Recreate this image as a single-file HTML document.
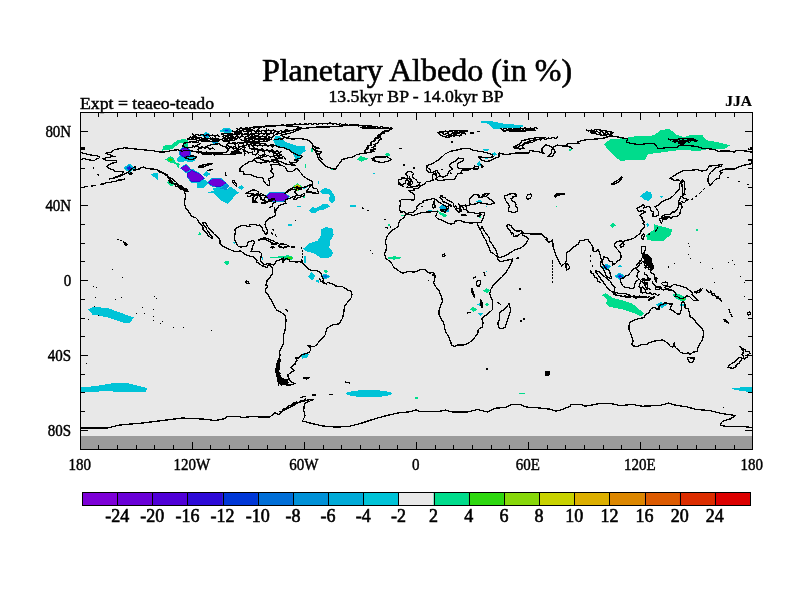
<!DOCTYPE html>
<html lang="en"><head><meta charset="utf-8"><title>Planetary Albedo (in %)</title>
<style>html,body{margin:0;padding:0;background:#fff}body{width:800px;height:600px;overflow:hidden}svg{display:block}text{font-family:"Liberation Serif","Times New Roman",serif;fill:#000;stroke:#000;stroke-width:0.45px}</style>
</head><body>
<svg width="800" height="600" viewBox="0 0 800 600">
<rect width="800" height="600" fill="#fff"/>
<rect x="80" y="112" width="673" height="338" fill="#e8e8e8"/>
<rect x="80" y="436" width="673" height="14" fill="#9b9b9b"/>
<defs><clipPath id="mapclip"><rect x="80" y="112" width="673" height="338"/></clipPath></defs>
<g clip-path="url(#mapclip)" shape-rendering="crispEdges"><polygon fill="#00c3d7" points="123.1,168.2 129.3,163.6 135.5,168.2 129.3,172.8"/><polygon fill="#0091d7" points="124.8,168.2 129.3,164.9 133.8,168.2 129.3,171.5"/><polygon fill="#0037d7" points="126.5,168.2 129.3,166.1 132.1,168.2 129.3,170.3"/><polygon fill="#2d0ad7" points="127.9,168.2 129.3,167.2 130.7,168.2 129.3,169.2"/><polygon fill="#00dc8c" points="161.9,150.6 163.7,145.6 171.2,145.0 176.9,140.6 183.7,138.7 188.1,140.6 187.5,146.9 183.7,146.9 183.1,142.5 180.0,142.5 175.0,146.9 171.2,149.4"/><polygon fill="#00c3d7" points="176.2,160.0 180.0,155.6 185.0,157.5 190.0,156.0 196.0,157.0 195.0,161.0 190.0,162.5 185.6,161.2 180.0,162.5"/><polygon fill="#0091d7" points="190.8,154.4 187.5,157.5 182.6,157.5 179.2,154.5 179.2,150.2 182.5,147.1 187.4,147.1 190.8,150.1"/><polygon fill="#2d0ad7" points="190.1,154.1 187.2,156.8 182.9,156.9 179.9,154.2 179.9,150.5 182.8,147.8 187.1,147.7 190.1,150.4"/><polygon fill="#6e00d7" points="189.3,153.9 186.8,156.1 183.3,156.1 180.7,153.9 180.7,150.7 183.2,148.5 186.7,148.5 189.3,150.7"/><polygon fill="#00dc8c" points="165.0,159.4 170.6,156.2 173.1,157.5 175.6,162.5 180.0,163.7 178.7,168.1 175.0,163.7 170.0,162.5"/><polygon fill="#2dd70f" points="167.7,159.6 170.3,157.8 172.9,159.6 170.3,161.4"/><polygon fill="#00c3d7" points="202.5,174.4 206.2,171.2 210.6,173.7 206.9,176.9"/><polygon fill="#00c3d7" points="196.9,183.7 205.0,179.4 208.1,183.1 203.7,187.5 197.5,188.1"/><polygon fill="#00c3d7" points="208.1,192.5 213.7,190.6 213.1,187.5 221.2,187.5 226.2,190.0 230.0,186.2 233.7,188.7 238.7,192.5 233.7,196.9 230.6,201.2 227.5,203.7 219.4,199.4 215.6,195.6 213.7,192.5"/><polygon fill="#0091d7" points="221.2,187.1 226.9,183.1 229.4,186.2 226.2,190.0 220.0,188.7"/><polygon fill="#00c3d7" points="238.1,187.5 241.2,185.0 244.4,187.5 241.2,190.0"/><polygon fill="#00c3d7" points="179.8,168.0 186.2,163.7 191.4,169.5 186.2,173.1"/><polygon fill="#0091d7" points="180.0,168.1 186.2,164.2 191.2,169.4 186.2,172.7"/><polygon fill="#2d0ad7" points="180.2,168.1 186.2,164.7 191.0,169.3 186.2,172.2"/><polygon fill="#6e00d7" points="180.5,168.2 186.2,165.2 190.8,169.2 186.2,171.7"/><polygon fill="#00c3d7" points="186.7,172.6 191.8,168.5 200.2,173.3 205.3,178.4 200.2,182.8 191.1,182.8 186.7,177.0"/><polygon fill="#0091d7" points="186.9,172.9 191.9,169.3 200.0,173.6 205.0,178.2 200.0,182.2 191.2,182.2 186.9,176.9"/><polygon fill="#2d0ad7" points="187.2,173.3 192.0,170.1 199.8,173.9 204.6,178.0 199.8,181.5 191.3,181.5 187.2,176.9"/><polygon fill="#6e00d7" points="187.5,173.8 192.1,171.0 199.6,174.3 204.2,177.8 199.6,180.8 191.5,180.8 187.5,176.8"/><polygon fill="#00c3d7" points="207.2,182.5 212.1,177.8 220.7,177.8 227.2,183.2 221.3,187.8 212.4,187.3"/><polygon fill="#0091d7" points="207.5,182.5 212.2,178.3 220.6,178.3 226.9,183.1 221.2,187.3 212.5,186.9"/><polygon fill="#2d0ad7" points="207.9,182.5 212.4,178.8 220.4,178.8 226.5,183.1 221.0,186.8 212.7,186.4"/><polygon fill="#6e00d7" points="208.2,182.5 212.6,179.3 220.3,179.3 226.1,183.0 220.8,186.2 212.8,185.9"/><polygon fill="#00c3d7" points="264.9,196.6 269.8,191.8 284.2,191.8 289.8,196.6 283.9,202.1 270.8,202.4"/><polygon fill="#0091d7" points="265.3,196.6 270.0,192.3 284.0,192.3 289.4,196.6 283.7,201.6 271.0,201.8"/><polygon fill="#2d0ad7" points="265.8,196.6 270.3,192.8 283.7,192.8 288.9,196.6 283.4,201.1 271.2,201.3"/><polygon fill="#6e00d7" points="266.3,196.7 270.6,193.4 283.5,193.4 288.4,196.7 283.2,200.5 271.5,200.7"/><polygon fill="#00c3d7" points="150.0,173.7 158.1,173.1 157.5,180.0"/><polygon fill="#00dc8c" points="166.9,182.5 170.6,178.7 175.0,184.4 171.2,186.2"/><polygon fill="#00c3d7" points="201.2,135.6 206.2,131.9 211.9,135.6 206.9,138.7"/><polygon fill="#0091d7" points="203.3,135.5 206.3,133.3 209.8,135.5 206.8,137.4"/><polygon fill="#0037d7" points="204.9,135.5 206.4,134.4 208.2,135.5 206.7,136.4"/><polygon fill="#00c3d7" points="219.4,131.2 225.0,127.5 230.0,128.1 233.1,131.9 227.5,133.7"/><polygon fill="#0091d7" points="222.8,130.9 225.9,128.8 228.7,129.2 230.4,131.3 227.3,132.3"/><polygon fill="#0037d7" points="224.9,130.7 226.4,129.6 227.8,129.8 228.7,130.9 227.1,131.4"/><polygon fill="#00c3d7" points="210.6,141.9 214.4,140.0 218.7,141.9 214.4,144.4"/><polygon fill="#006ed7" points="212.2,142.0 214.5,140.8 217.0,142.0 214.5,143.5"/><polygon fill="#00c3d7" points="273.1,140.6 275.6,136.2 280.0,136.2 285.0,141.9 296.2,145.6 305.0,145.6 305.6,150.6 301.2,154.4 298.1,162.5 295.0,158.1 292.5,152.5 285.0,148.7 276.2,146.9"/><polygon fill="#00dc8c" points="311.3,148.0 312.5,148.0 312.5,152.0 311.3,152.0"/><polygon fill="#00dc8c" points="304.5,163.5 305.8,163.5 305.8,168.0 304.5,168.0"/><polygon fill="#00dc8c" points="331.0,168.8 334.0,168.8 334.0,170.0 331.0,170.0"/><polygon fill="#00dc8c" points="292.3,187.2 297.5,183.0 302.7,187.2 297.5,191.4"/><polygon fill="#87d70a" points="293.2,187.2 297.5,183.8 301.8,187.2 297.5,190.6"/><polygon fill="#c8d200" points="294.2,187.2 297.5,184.5 300.8,187.2 297.5,189.9"/><polygon fill="#dc8700" points="295.1,187.2 297.5,185.3 299.9,187.2 297.5,189.1"/><polygon fill="#dc2d00" points="296.1,187.2 297.5,186.1 298.9,187.2 297.5,188.3"/><polygon fill="#00c3d7" points="302.5,188.2 308.7,185.4 307.0,187.8 303.0,189.5"/><polygon fill="#00c3d7" points="318.0,181.0 319.2,181.0 319.2,184.0 318.0,184.0"/><polygon fill="#00c3d7" points="319.4,191.2 325.0,188.1 330.0,189.4 334.4,195.0 335.0,200.0 331.9,203.7 328.7,200.0 330.0,195.0 327.5,193.7 322.5,194.4"/><polygon fill="#00c3d7" points="309.4,210.6 312.5,206.9 316.2,208.1 322.5,204.4 327.5,203.7 330.0,206.2 325.0,209.4 318.7,210.6 316.2,212.5 311.2,213.1"/><polygon fill="#00c3d7" points="296.5,205.5 301.0,205.5 301.0,207.0 296.5,207.0"/><polygon fill="#00c3d7" points="288.0,224.0 292.0,224.0 292.0,226.0 288.0,226.0"/><polygon fill="#00c3d7" points="350.0,204.8 356.0,204.8 356.0,206.8 350.0,206.8"/><polygon fill="#00dc8c" points="303.2,196.3 304.6,196.3 304.6,198.0 303.2,198.0"/><polygon fill="#00c3d7" points="303.1,248.7 310.0,243.1 317.5,240.6 321.2,235.0 321.2,229.4 325.6,226.9 332.5,228.7 333.7,235.0 330.0,241.2 329.4,247.5 333.1,252.5 331.2,256.9 326.2,258.1 320.0,257.5 313.7,253.1 306.2,251.2"/><polygon fill="#00dc8c" points="270.0,257.5 280.0,256.2 288.7,255.2 293.1,256.9 292.5,259.4 286.9,260.6 280.0,258.1"/><polygon fill="#2dd70f" points="286.5,257.2 292.0,257.0 291.5,259.2 287.5,259.8"/><polygon fill="#00c3d7" points="262.0,257.0 263.2,257.0 263.2,259.5 262.0,259.5"/><polygon fill="#00c3d7" points="304.0,256.2 305.6,256.2 305.8,263.0 304.3,263.0"/><polygon fill="#00c3d7" points="308.1,276.2 311.9,271.9 315.6,276.2 311.9,280.6"/><polygon fill="#00c3d7" points="315.0,280.6 319.4,280.0 318.7,283.1"/><polygon fill="#00c3d7" points="320.0,276.2 325.0,273.7 330.6,276.2 325.6,279.4"/><polygon fill="#0091d7" points="321.6,276.3 325.1,274.5 329.0,276.3 325.5,278.5"/><polygon fill="#006ed7" points="323.2,276.3 325.2,275.3 327.4,276.3 325.4,277.6"/><polygon fill="#00dc8c" points="323.1,271.2 325.6,269.7 328.1,271.5 325.6,273.1"/><polygon fill="#00c3d7" points="300.5,355.5 304.0,353.0 309.0,354.0 307.0,357.5 302.5,358.5"/><polygon fill="#00c3d7" points="392.0,393.6 390.6,394.8 386.6,395.9 380.5,396.7 373.0,397.1 365.0,397.1 357.5,396.7 351.4,395.9 347.4,394.8 346.0,393.6 347.4,392.4 351.4,391.3 357.5,390.5 365.0,390.1 373.0,390.1 380.5,390.5 386.6,391.3 390.6,392.4"/><polygon fill="#00dc8c" points="414.5,396.8 417.5,396.8 417.5,398.5 414.5,398.5"/><polygon fill="#00dc8c" points="519.0,392.7 525.0,392.7 525.0,393.9 519.0,393.9"/><polygon fill="#00dc8c" points="386.0,258.0 394.0,256.2 402.5,257.8 394.0,259.8"/><polygon fill="#00dc8c" points="388.0,224.2 389.5,224.2 389.5,226.0 388.0,226.0"/><polygon fill="#00dc8c" points="356.9,159.4 360.6,156.2 368.7,158.7 361.2,161.9"/><polygon fill="#00dc8c" points="384.4,154.4 386.9,152.7 390.0,153.7 389.4,156.2 385.6,155.6"/><polygon fill="#00c3d7" points="372.7,172.8 374.8,172.8 374.8,174.0 372.7,174.0"/><polygon fill="#00aad7" points="439.4,207.5 442.5,204.4 445.6,205.6 449.4,210.0 448.1,212.5 441.2,211.2"/><polygon fill="#00dc8c" points="436.9,210.0 441.2,212.5 447.5,215.0 444.4,217.5 440.0,214.4"/><polygon fill="#00c3d7" points="428.0,210.0 432.0,210.0 432.0,211.3 428.0,211.3"/><polygon fill="#00c3d7" points="475.0,201.2 480.0,200.0 482.5,201.5 477.5,202.2"/><polygon fill="#00c3d7" points="486.0,206.0 487.0,206.0 487.0,207.0 486.0,207.0"/><polygon fill="#00dc8c" points="479.0,216.0 481.0,216.0 481.0,218.0 479.0,218.0"/><polygon fill="#00dc8c" points="400.5,214.5 403.5,214.5 403.5,216.0 400.5,216.0"/><polygon fill="#00c3d7" points="478.7,122.2 483.1,121.0 492.5,121.4 505.0,123.9 522.5,125.1 523.7,127.0 515.0,128.2 503.7,127.6 495.0,129.5 492.5,128.2 487.5,123.5"/><polygon fill="#00c3d7" points="481.9,150.1 485.0,148.9 489.4,149.5 487.5,151.4"/><polygon fill="#00c3d7" points="491.9,153.2 495.0,152.0 496.9,155.1 493.7,155.7"/><polygon fill="#00c3d7" points="485.0,158.0 488.0,158.0 488.0,159.2 485.0,159.2"/><polygon fill="#00c3d7" points="476.2,163.9 480.0,160.7 481.2,165.7 478.7,166.4"/><polygon fill="#00dc8c" points="568.7,148.2 572.0,149.5 570.0,152.0"/><polygon fill="#00dc8c" points="555.5,205.5 556.7,205.5 556.7,206.7 555.5,206.7"/><polygon fill="#00dc8c" points="604.1,143.9 610.6,139.2 623.7,138.2 635.0,136.4 653.7,135.4 661.2,129.8 669.7,129.2 676.2,134.5 683.7,137.3 691.2,134.9 702.5,135.4 706.2,140.1 721.2,142.9 729.7,145.4 725.0,148.6 710.0,148.6 696.9,151.4 683.7,149.5 668.7,151.4 648.1,154.2 645.3,159.8 620.0,160.7 614.4,156.1 607.8,149.5"/><polygon fill="#00c3d7" points="640.0,196.2 646.2,191.2 651.2,191.9 651.9,197.5 648.1,201.0 643.7,199.4"/><polygon fill="#00c3d7" points="659.0,196.0 663.1,196.0 661.9,198.1"/><polygon fill="#00dc8c" points="610.0,225.6 613.1,222.9 616.0,225.2 612.5,228.1"/><polygon fill="#00c3d7" points="646.2,224.4 648.1,222.9 649.0,225.0 647.5,226.9"/><polygon fill="#00dc8c" points="646.2,235.0 653.7,230.0 654.4,224.4 668.1,228.1 672.2,229.4 670.6,235.0 663.7,240.6 652.5,240.9 646.9,239.4"/><polygon fill="#00dc8c" points="696.0,229.0 698.0,229.0 698.0,231.0 696.0,231.0"/><polygon fill="#00c3d7" points="600.6,266.9 606.2,263.7 611.9,266.2 606.2,270.6"/><polygon fill="#0091d7" points="602.6,266.9 606.2,264.8 609.9,266.4 606.2,269.3"/><polygon fill="#0037d7" points="604.5,266.9 606.2,265.9 607.9,266.7 606.2,268.0"/><polygon fill="#00c3d7" points="618.1,266.2 620.0,265.0 622.2,266.2 620.0,267.7"/><polygon fill="#00c3d7" points="614.4,276.2 619.4,272.7 625.6,276.2 620.0,280.0"/><polygon fill="#0091d7" points="616.0,276.2 619.5,273.8 623.9,276.2 620.0,278.9"/><polygon fill="#0037d7" points="617.6,276.2 619.7,274.8 622.3,276.2 619.9,277.8"/><polygon fill="#2d0ad7" points="618.8,276.3 619.8,275.6 621.0,276.3 619.9,277.0"/><polygon fill="#00dc8c" points="601.9,295.0 605.6,293.1 613.1,298.1 623.7,300.6 632.5,303.7 640.0,310.0 644.4,313.7 640.6,316.2 633.7,313.1 622.5,309.4 610.0,306.9 605.6,303.7 607.5,300.0"/><polygon fill="#00c3d7" points="655.6,305.0 660.6,302.2 666.2,303.7 666.9,305.0 661.9,308.1 658.1,306.2"/><polygon fill="#0091d7" points="658.6,305.0 661.1,303.6 663.9,304.4 664.2,305.0 661.7,306.6 659.8,305.6"/><polygon fill="#00dc8c" points="672.5,295.0 676.2,293.1 682.5,295.6 686.2,298.7 685.0,301.2 680.0,300.6 675.0,298.1"/><polygon fill="#2dd70f" points="681.5,298.6 684.5,298.6 684.5,300.2 681.5,300.2"/><polygon fill="#00c3d7" points="680.0,303.7 685.0,303.7 685.0,305.6 680.0,305.6"/><polygon fill="#00dc8c" points="483.1,290.6 486.9,288.1 490.0,290.6 486.9,293.1"/><polygon fill="#00dc8c" points="485.0,304.6 487.2,302.9 489.4,304.6 487.2,306.2"/><polygon fill="#00c3d7" points="476.9,304.4 480.0,303.1 480.0,306.2"/><polygon fill="#00dc8c" points="470.0,309.4 473.1,306.9 477.5,309.4 473.7,311.9"/><polygon fill="#00c3d7" points="477.5,313.1 483.1,313.1 480.0,316.0"/><polygon fill="#00c3d7" points="486.0,270.7 487.0,270.7 487.0,271.7 486.0,271.7"/><polygon fill="#00c3d7" points="88.0,309.2 93.7,307.0 107.5,308.0 133.7,317.5 130.0,323.0 122.5,322.5 107.5,317.5 92.5,314.5"/><polygon fill="#00c3d7" points="80.0,387.5 95.0,386.2 112.5,383.2 127.5,383.2 147.5,388.0 145.0,392.5 125.0,392.0 105.0,391.2 80.0,392.5"/><polygon fill="#00c3d7" points="730.0,388.7 740.0,387.5 752.5,386.7 752.5,392.0 742.5,391.2"/><polygon fill="#00dc8c" points="198.0,234.5 200.0,230.7 201.2,235.7"/><polygon fill="#00c3d7" points="232.0,241.5 236.0,241.5 235.0,245.0"/><polygon fill="#00dc8c" points="223.7,262.0 228.7,260.5 229.5,263.7 227.0,265.0"/></g>
<g clip-path="url(#mapclip)"><path fill="none" stroke="#000" stroke-width="1.3" stroke-linejoin="round" shape-rendering="crispEdges" d="M272.5,265.1 270.3,263.6 268.4,263.2 266.0,264.5 264.1,264.4 263.2,263.8 261.0,261.5 260.4,259.7 261.0,256.9 261.5,253.3 259.1,251.6 256.3,251.4 253.5,251.6 251.1,251.6 252.0,249.4 252.4,246.6 253.5,244.7 254.8,241.5 252.6,240.8 248.3,241.7 247.5,244.7 246.0,246.6 243.6,246.6 240.4,247.1 238.0,246.0 236.7,244.1 235.2,241.0 234.2,238.5 234.6,235.4 235.4,232.5 235.0,229.7 237.2,227.7 239.9,226.2 242.3,225.4 245.5,225.8 247.9,226.7 250.1,226.7 249.6,224.7 252.6,224.3 255.4,224.3 257.6,225.6 259.7,224.9 261.9,226.9 262.5,229.2 263.8,231.6 265.3,234.0 266.8,234.0 267.5,231.0 266.4,227.9 265.1,225.1 265.3,222.3 267.5,220.0 269.7,218.1 271.6,217.6 274.0,216.3 275.7,215.1 275.0,212.3 274.2,209.7 274.6,207.7 275.2,211.4 276.7,209.2 278.3,207.1 278.7,205.4 281.5,204.7 284.3,203.5 286.2,203.2 284.9,201.7 285.6,199.8 288.0,198.7 291.4,197.6 293.7,196.6 296.1,195.9 293.5,199.2 295.5,199.6 298.3,197.7 302.6,196.4 304.9,195.1 303.9,193.3 301.5,195.3 298.3,195.3 296.5,194.6 295.9,193.1 294.6,191.8 296.8,189.9 292.7,189.3 289.0,190.8 286.2,192.9 284.3,193.6 287.1,191.6 289.0,189.5 291.8,188.4 292.7,187.3 297.4,187.1 302.1,187.5 305.8,186.9 309.5,185.0 312.7,183.9 312.7,181.5 309.5,179.8 305.8,177.9 303.0,176.0 301.5,173.6 299.6,171.5 297.0,168.9 295.9,168.2 294.6,169.9 292.7,171.2 289.9,171.9 287.1,171.2 286.6,168.9 285.2,167.1 282.4,165.7 278.7,164.6 273.1,164.3 270.9,164.6 271.6,167.1 272.2,168.9 270.7,171.4 273.1,173.6 273.9,175.9 272.2,177.3 268.4,178.8 269.4,181.1 269.7,183.0 269.7,184.8 267.9,185.4 266.6,184.8 264.7,182.4 263.2,181.1 263.2,178.3 261.0,177.7 257.2,177.3 253.5,176.2 250.7,174.7 247.0,174.2 244.2,174.5 243.2,171.7 240.0,171.2 239.9,168.9 241.3,167.1 244.2,164.8 247.0,163.3 248.8,161.8 251.6,161.4 254.4,159.6 256.3,157.7 258.2,157.1 261.0,157.7 263.8,156.4 265.1,154.9 264.7,153.0 263.8,151.5 261.0,150.6 257.6,150.6 258.2,152.5 255.4,154.9 252.6,154.0 252.6,152.1 248.8,153.0 246.0,151.2 244.2,149.3 245.1,147.4 240.4,146.5 238.5,148.3 236.7,150.2 239.5,152.1 241.3,153.0 237.6,153.6 233.9,154.3 231.1,154.0 227.3,154.5 221.7,154.0 217.1,154.1 214.3,154.9 215.2,153.0 211.5,154.0 205.9,154.3 202.1,154.1 201.2,152.5 196.5,151.7 190.0,150.6 184.4,150.2 182.5,151.3 177.8,149.7 174.1,150.2 168.5,151.2 163.8,152.1 160.1,152.1 153.6,150.8 147.9,150.2 140.5,149.5 133.0,148.7 124.6,147.8 119.9,148.7 114.3,149.7 111.5,152.1 106.9,152.5 105.9,153.4 109.7,154.7 111.5,155.8 115.3,156.8 111.5,156.8 106.9,157.7 103.1,158.5 105.9,160.3 111.5,160.5 116.2,160.5 116.2,162.4 111.5,163.3 107.8,165.2 106.9,166.1 108.7,168.0 111.5,169.3 114.3,170.4 114.3,171.5 118.1,171.2 120.9,171.4 123.3,171.4 122.7,173.6 119.0,175.9 115.3,177.2 112.5,178.3 109.1,179.0 113.4,178.3 117.1,177.3 120.9,176.0 124.6,174.0 128.3,172.1 130.2,170.2 133.0,168.0 134.9,166.7 135.8,168.4 133.4,170.2 136.7,169.7 139.5,168.9 140.5,167.4 143.3,167.1 146.1,168.2 149.8,168.9 153.6,169.1 157.3,169.9 160.1,171.5 162.9,172.3 164.8,174.5 167.6,176.4 171.3,178.3 173.2,179.6 176.0,182.0 177.8,184.8 179.7,186.7 183.4,188.0 187.2,189.1 188.1,191.4 184.2,190.8 185.3,194.2 185.3,197.9 184.6,201.1 184.9,205.4 185.9,208.2 188.1,210.7 189.4,212.9 191.7,216.5 195.6,217.6 198.0,220.0 199.3,223.2 202.1,226.0 203.4,228.8 202.1,229.2 204.9,231.2 207.2,233.5 207.7,235.4 210.9,237.6 212.4,238.2 212.4,236.3 210.5,235.4 209.0,232.5 206.8,229.7 205.9,227.3 203.6,225.1 202.7,222.3 205.9,222.8 207.2,226.0 209.6,228.8 212.4,231.6 213.3,233.5 216.1,235.7 218.4,237.8 219.9,240.4 219.9,243.2 221.7,245.3 224.5,247.0 227.3,248.4 230.1,249.6 233.9,251.3 237.6,251.8 240.4,250.9 242.3,252.2 244.7,254.1 247.0,255.2 249.8,256.1 252.6,256.5 253.5,257.1 255.4,259.1 256.7,260.8 256.9,262.7 258.5,263.0 260.4,264.5 261.9,265.8 264.1,266.2 266.0,267.5 267.5,267.2 267.5,265.7 268.8,264.4 270.7,265.7 271.2,267.2 272.2,268.1 272.5,270.9 272.5,273.7 270.3,276.5 269.7,278.4 267.5,279.7 266.6,282.1 266.0,285.3 267.5,286.2 266.9,287.6 265.3,289.6 265.6,292.4 267.9,294.7 269.7,297.7 272.2,301.8 274.4,306.4 276.5,309.8 280.6,312.1 283.8,314.1 285.6,315.8 286.0,320.5 285.4,325.2 285.1,329.8 283.6,334.5 283.4,339.2 283.2,343.9 281.3,348.2 279.6,350.8 280.0,355.1 279.1,358.8 280.6,359.8 279.6,362.6 277.8,365.4 275.9,368.8 277.8,371.0 276.3,374.7 277.8,378.5 280.6,380.9 283.4,381.8 284.7,380.4 287.1,379.2 289.2,379.0 288.0,376.6 288.0,374.7 290.5,372.9 294.0,370.6 292.7,369.1 290.9,367.3 292.7,365.4 295.0,364.4 295.5,361.6 297.4,360.7 295.5,357.9 299.3,357.9 300.8,355.1 304.9,353.8 309.3,352.3 310.8,349.5 309.9,347.6 307.8,345.2 310.5,346.1 314.4,346.5 317.0,344.4 319.4,341.1 322.6,338.3 325.4,334.5 326.2,330.8 327.3,328.3 330.1,326.1 333.8,324.4 338.5,324.0 340.4,322.0 342.2,318.6 343.7,313.9 344.1,309.3 345.0,305.5 347.3,302.7 349.7,299.9 351.6,297.1 351.9,294.3 351.0,290.9 347.8,290.2 345.0,288.1 342.2,286.6 338.9,286.4 334.7,285.9 333.8,284.6 330.1,283.1 327.3,282.5 326.3,284.0 323.5,283.1 322.6,281.2 323.5,279.3 321.7,275.6 320.7,273.1 318.3,271.3 315.1,270.2 310.5,270.2 307.7,268.1 304.9,265.3 302.1,262.9 300.2,261.4 296.5,262.1 293.7,261.4 289.9,261.2 289.0,259.9 286.2,258.4 283.8,260.6 282.8,262.5 283.0,259.3 283.8,258.0 280.6,259.7 277.8,260.6 275.9,261.5 275.3,263.6 273.5,265.1 272.5,265.1M288.8,379.6 285.2,381.5 283.4,382.6 286.2,384.1 289.9,385.0 293.7,384.1 295.1,383.5 291.8,382.2 289.9,380.4 288.8,379.6M303.0,378.1 305.8,377.4 309.0,377.7 306.7,379.0 303.0,378.1M280.6,134.9 289.9,133.4 295.5,131.1 301.1,128.7 314.2,127.2 332.9,126.8 351.6,125.0 366.5,125.3 375.8,127.2 360.9,127.8 379.6,128.7 392.7,128.7 385.2,131.5 381.4,133.4 379.6,136.2 381.4,139.0 378.6,140.9 377.7,142.7 374.0,144.6 375.8,146.5 372.1,147.4 375.8,149.3 370.2,150.2 374.0,151.2 368.4,152.7 360.9,153.6 356.2,154.9 352.5,157.1 346.9,158.1 342.2,159.6 340.4,162.4 337.6,165.6 335.7,168.9 332.9,168.9 327.3,167.1 323.5,164.3 320.7,161.4 317.9,157.7 317.0,154.9 321.7,152.1 315.1,150.6 315.1,148.9 319.8,148.3 313.3,146.5 311.4,142.7 307.7,139.9 301.1,138.6 291.8,139.0 284.3,137.1 280.6,134.9M371.5,158.6 375.8,157.0 383.3,157.1 387.1,156.8 389.9,158.6 391.3,159.6 388.0,161.1 382.4,162.6 377.7,161.8 374.5,161.6 375.8,160.5 372.1,159.8 374.9,159.0 371.5,158.6M258.2,240.2 261.9,238.2 265.6,238.0 269.4,239.3 273.1,241.0 275.9,242.5 278.3,243.4 275.9,244.0 271.8,244.0 272.7,242.6 270.3,241.9 266.6,240.0 263.8,239.3 261.0,239.7 258.2,240.2M278.0,246.8 280.6,244.0 283.4,244.0 286.2,244.5 289.2,246.4 287.1,246.8 284.3,247.1 283.2,248.1 281.5,247.1 278.0,246.8M270.7,247.0 273.1,246.6 274.6,247.5 272.7,247.9 270.7,247.0M291.4,246.8 294.2,246.8 294.0,247.5 291.4,247.5 291.4,246.8M306.2,192.1 308.6,188.6 310.5,185.8 312.7,184.8 312.3,187.6 314.2,188.6 317.0,188.9 317.9,191.4 318.5,193.3 317.0,194.0 315.1,192.7 312.7,193.4 311.4,192.1 306.2,192.1M177.3,186.1 181.6,186.9 185.3,189.1 186.4,190.6 183.4,189.9 180.1,188.4 177.3,186.1M168.5,180.0 170.9,180.2 171.3,182.0 172.0,183.9 169.8,182.0 168.5,180.0M128.3,173.6 131.1,172.7 132.6,173.6 130.2,174.7 128.3,173.6M296.5,187.8 300.2,188.4 301.5,189.1 298.3,188.9 296.5,187.8M295.9,165.9 292.7,165.2 289.0,164.6 284.3,163.7 281.5,161.8 277.8,160.7 272.2,160.9 271.2,159.6 276.8,159.0 279.6,158.6 278.7,156.8 281.5,154.9 278.7,153.4 274.0,153.0 271.2,151.2 268.4,150.2 263.8,150.6 258.2,149.8 253.5,149.7 249.8,148.3 248.8,145.5 250.7,143.1 258.2,143.1 265.6,143.3 266.6,145.5 271.2,145.0 275.0,145.2 278.7,146.9 284.3,148.0 289.0,149.8 291.8,152.1 297.4,154.9 302.1,156.2 301.1,157.7 297.4,159.0 294.6,160.1 298.3,160.5 295.5,162.8 289.0,162.0 292.7,164.3 295.9,165.9M254.4,159.0 259.1,158.1 264.7,161.1 267.1,162.0 261.9,162.9 257.2,162.8 255.4,161.4 254.4,159.0M197.4,149.3 204.0,147.4 211.5,144.6 218.9,143.7 220.8,145.5 226.4,147.4 228.3,150.2 225.5,152.5 218.9,152.5 211.5,152.8 204.9,153.0 199.3,151.5 197.4,149.3M182.5,146.5 187.2,148.0 191.8,147.4 197.4,145.0 200.3,143.7 197.4,142.2 190.9,141.8 184.4,143.1 182.5,146.5M198.4,140.3 205.9,141.8 213.3,141.2 218.9,140.9 218.9,139.0 212.4,138.1 205.9,138.6 198.4,140.3M226.4,145.0 232.0,147.4 235.7,146.5 234.8,143.7 229.2,143.1 226.4,145.0M238.5,146.1 243.2,146.5 247.9,144.6 247.0,142.7 240.4,142.5 238.5,144.6 238.5,146.1M245.1,141.2 252.6,141.8 263.8,141.8 267.5,140.9 267.5,139.4 260.0,139.4 250.7,138.4 245.1,138.1 245.1,141.2M222.7,140.9 229.2,140.9 234.8,140.5 233.9,138.1 227.3,138.1 222.7,139.0 222.7,140.9M250.7,138.4 258.2,138.4 267.5,138.4 272.2,137.1 275.9,134.3 284.3,132.4 293.7,130.0 301.1,127.8 295.5,126.3 282.4,125.7 267.5,125.9 252.6,127.2 247.0,128.7 254.4,130.6 256.3,132.4 252.6,134.3 256.3,135.6 250.7,138.4M237.6,131.5 245.1,129.3 251.6,131.5 251.6,134.3 245.1,134.7 238.5,133.4 237.6,131.5M231.1,152.1 234.8,150.8 238.5,151.5 237.6,152.8 232.9,153.0 231.1,152.1M273.1,154.0 275.9,153.6 277.8,154.9 274.0,155.5 273.1,154.0M220.8,133.8 230.1,133.8 232.0,135.6 224.5,135.6 220.8,133.8M187.2,139.0 194.6,139.4 200.3,137.9 193.7,136.4 187.2,139.0M184.4,157.7 190.9,159.6 195.6,158.6 196.5,156.8 191.8,155.8 187.2,156.6 184.4,157.7M198.4,167.1 203.1,167.1 207.7,165.2 212.4,163.7 208.7,163.9 204.0,164.8 200.3,165.6 198.4,167.1M232.0,180.5 233.9,183.9 236.7,186.7 236.7,184.8 234.8,182.0 233.9,180.2 232.0,180.5M245.1,193.6 249.8,191.4 252.6,189.9 256.3,190.3 258.5,192.3 258.5,194.2 254.4,194.2 251.6,193.3 247.9,193.8 245.1,193.6M252.9,202.6 255.4,202.6 255.9,198.9 258.2,195.7 255.4,195.5 252.9,197.9 252.9,202.6M259.1,195.3 263.8,195.1 267.5,197.7 264.7,197.4 263.8,200.4 261.0,199.2 261.0,197.0 259.1,195.3M261.3,203.2 264.7,203.4 269.4,201.3 266.6,201.5 262.8,202.6 261.3,203.2M268.1,200.2 271.2,200.2 274.4,199.6 274.0,198.7 271.2,199.1 268.1,200.2M125.5,243.4 127.4,244.3 126.3,245.6 125.5,244.5 125.5,243.4M772.4,157.5 770.0,155.8 762.5,154.9 753.2,152.5 747.6,151.2 736.4,150.2 734.5,152.1 728.9,151.0 717.7,151.2 714.0,149.3 702.7,148.3 697.1,146.5 687.8,145.5 680.3,145.0 676.6,147.4 669.1,147.4 661.6,148.3 657.9,148.3 656.0,145.5 654.2,143.7 646.7,143.7 639.2,144.6 629.9,143.3 626.2,141.8 628.0,139.0 618.7,137.1 611.2,135.8 603.7,138.1 596.3,139.0 585.1,139.9 577.6,141.8 579.5,143.7 568.2,143.7 566.4,145.5 572.0,148.3 570.1,146.5 562.6,145.9 557.0,145.0 553.3,147.4 555.2,152.1 553.3,154.9 551.4,156.8 547.7,156.8 551.4,153.0 552.4,147.4 545.8,144.6 542.1,148.3 542.1,152.1 544.0,153.4 538.4,151.7 530.0,150.6 529.0,153.0 519.7,153.0 515.9,153.0 506.6,154.5 502.9,154.0 499.1,153.0 499.1,156.8 491.7,159.6 491.7,160.5 486.1,161.4 482.3,160.5 478.6,156.8 487.9,157.7 493.5,156.8 491.7,154.3 484.2,152.1 478.6,151.2 473.0,150.2 469.2,148.3 463.6,148.3 456.2,150.2 450.6,151.2 445.0,154.0 441.2,157.7 437.5,160.5 432.8,163.3 426.3,166.1 426.3,169.9 429.1,172.7 431.9,172.7 436.6,170.2 437.5,171.7 439.4,174.5 440.3,176.4 443.1,177.3 446.8,175.5 448.7,171.7 452.4,168.9 449.6,166.1 450.6,163.3 456.2,160.5 458.0,158.1 463.6,158.6 463.6,160.5 458.0,163.3 457.1,167.1 459.9,168.9 465.5,168.4 471.1,168.9 469.2,169.9 461.8,170.1 460.8,172.7 462.7,173.6 458.0,173.4 456.2,176.4 454.3,179.2 451.5,179.2 446.8,179.6 443.1,180.2 437.5,180.2 435.6,179.2 436.6,176.4 436.6,173.2 432.3,174.5 432.3,177.3 433.4,180.2 430.0,181.1 426.3,181.7 424.4,183.9 422.5,185.2 420.1,186.0 419.7,187.6 416.9,188.8 414.1,188.2 414.1,190.1 408.2,190.6 411.3,192.3 414.1,194.2 414.7,197.9 413.6,200.0 409.5,199.8 402.0,199.4 399.8,200.7 400.5,203.5 399.6,208.2 400.3,212.0 403.9,211.8 405.4,213.3 406.9,213.6 409.5,212.5 413.2,212.3 416.0,210.1 416.9,208.6 416.4,207.3 418.8,204.5 422.9,202.6 423.5,200.2 426.3,200.2 430.9,199.4 433.8,198.3 436.2,199.8 439.4,202.6 442.2,204.1 445.9,206.3 446.8,209.2 446.3,210.1 448.7,208.2 448.1,206.7 448.7,205.4 451.5,206.2 450.6,204.9 446.8,203.0 443.1,201.7 442.2,199.8 439.9,197.9 440.3,196.1 442.5,195.7 442.5,197.2 445.0,197.9 446.8,199.8 450.6,201.7 453.4,203.2 453.2,205.8 455.2,208.2 457.1,211.0 459.0,212.9 459.9,211.0 461.8,210.1 459.9,208.2 459.9,205.8 461.8,206.0 465.5,204.9 465.9,206.3 471.1,204.5 469.2,202.6 469.2,199.8 471.1,197.0 473.9,194.6 476.7,194.6 479.5,195.5 478.6,197.7 482.3,197.0 485.1,196.4 482.3,194.6 487.9,193.3 489.8,193.3 486.1,196.4 488.9,198.3 491.7,200.4 494.5,203.2 489.8,204.5 484.2,203.5 478.6,202.6 474.8,204.1 471.1,204.5 465.9,206.3 466.4,208.2 466.4,209.5 467.9,212.0 470.2,212.5 473.9,212.9 476.7,213.5 480.5,212.9 484.2,212.3 484.2,214.8 483.8,216.6 482.7,219.4 481.4,222.3 477.7,222.8 474.8,222.3 471.1,223.2 463.6,221.9 459.9,220.4 454.3,221.3 454.3,223.6 450.6,224.1 445.9,222.3 441.2,219.8 437.5,218.5 435.6,216.6 436.6,213.8 437.5,212.0 435.2,211.4 430.0,212.0 422.5,212.3 416.9,214.2 413.2,215.3 407.0,214.2 405.7,214.8 403.9,217.6 400.1,220.4 398.6,223.2 398.6,226.0 395.5,228.4 392.7,229.7 389.9,232.5 387.1,236.3 385.2,241.9 386.5,245.6 386.1,250.3 384.2,253.7 385.7,256.9 386.1,258.7 388.9,260.6 391.7,263.4 393.6,267.2 396.4,269.0 400.1,271.8 402.9,273.1 407.6,271.6 411.3,271.8 414.1,272.2 418.8,270.3 421.6,269.4 425.3,269.4 427.2,272.2 430.0,273.0 432.8,272.6 434.7,274.1 435.1,277.4 434.3,280.3 433.4,282.7 435.1,285.9 437.5,288.7 439.4,291.5 440.3,294.3 441.8,297.7 442.5,301.8 440.3,306.4 439.0,311.1 439.0,314.9 441.6,319.5 443.8,323.3 444.6,328.0 445.9,332.6 448.1,335.4 449.6,339.2 450.9,342.0 451.3,345.2 454.3,346.3 458.0,345.0 461.8,345.0 464.9,344.8 468.3,343.5 473.0,339.6 475.8,336.0 478.0,332.6 478.2,329.5 482.3,327.0 483.1,323.3 481.9,318.6 485.1,315.8 489.8,312.1 492.8,309.3 492.6,304.6 492.4,300.8 490.4,296.2 489.8,293.4 490.7,289.6 492.6,286.2 495.0,283.6 498.2,279.9 501.9,277.1 505.7,273.1 508.5,268.1 511.3,263.4 512.6,259.1 508.5,259.9 503.8,261.0 500.1,261.7 497.8,259.7 497.6,257.4 493.5,253.5 491.1,252.6 488.9,247.5 486.6,242.3 485.7,240.0 483.3,236.3 481.4,231.6 479.5,228.8 477.7,225.2 477.7,222.8M99.9,157.5 97.5,155.8 90.0,154.9 80.7,152.5 75.1,151.2 63.9,150.2 62.0,152.1 56.4,151.0 45.2,151.2 41.5,149.3 30.3,148.3 24.7,146.5 15.3,145.5 7.8,145.0 4.1,147.4 -3.4,147.4 -10.8,148.3 -14.6,148.3 -16.4,145.5 -18.3,143.7 -25.8,143.7 -33.2,144.6 -42.6,143.3 -46.3,141.8 -44.5,139.0 -53.8,137.1 -61.3,135.8 -68.7,138.1 -76.2,139.0 -87.4,139.9 -94.9,141.8 -93.0,143.7 -104.2,143.7 -106.1,145.5 -100.5,148.3 -102.4,146.5 -109.8,145.9 -115.4,145.0 -119.2,147.4 -117.3,152.1 -119.2,154.9 -121.0,156.8 -124.8,156.8 -121.0,153.0 -120.1,147.4 -126.6,144.6 -130.4,148.3 -130.4,152.1 -128.5,153.4 -134.1,151.7 -142.5,150.6 -143.5,153.0 -152.8,153.0 -156.5,153.0 -165.9,154.5 -169.6,154.0 -173.3,153.0 -173.3,156.8 -180.8,159.6 -180.8,160.5 -186.4,161.4 -190.2,160.5 -193.9,156.8 -184.6,157.7 -179.0,156.8 -180.8,154.3 -188.3,152.1 -193.9,151.2 -199.5,150.2 -203.2,148.3 -208.8,148.3 -216.3,150.2 -221.9,151.2 -227.5,154.0 -231.3,157.7 -235.0,160.5 -239.7,163.3 -246.2,166.1 -246.2,169.9 -243.4,172.7 -240.6,172.7 -235.9,170.2 -235.0,171.7 -233.1,174.5 -232.2,176.4 -229.4,177.3 -225.7,175.5 -223.8,171.7 -220.0,168.9 -222.9,166.1 -221.9,163.3 -216.3,160.5 -214.4,158.1 -208.8,158.6 -208.8,160.5 -214.4,163.3 -215.4,167.1 -212.6,168.9 -207.0,168.4 -201.4,168.9 -203.2,169.9 -210.7,170.1 -211.6,172.7 -209.8,173.6 -214.4,173.4 -216.3,176.4 -218.2,179.2 -221.0,179.2 -225.7,179.6 -229.4,180.2 -235.0,180.2 -236.9,179.2 -235.9,176.4 -235.9,173.2 -240.2,174.5 -240.2,177.3 -239.1,180.2 -242.5,181.1 -246.2,181.7 -248.1,183.9 -249.9,185.2 -252.4,186.0 -252.7,187.6 -255.5,188.8 -258.3,188.2 -258.3,190.1 -264.3,190.6 -261.1,192.3 -258.3,194.2 -257.8,197.9 -258.9,200.0 -263.0,199.8 -270.5,199.4 -272.7,200.7 -272.0,203.5 -272.9,208.2 -272.2,212.0 -268.6,211.8 -267.1,213.3 -265.6,213.6 -263.0,212.5 -259.3,212.3 -256.5,210.1 -255.5,208.6 -256.1,207.3 -253.7,204.5 -249.6,202.6 -249.0,200.2 -246.2,200.2 -241.5,199.4 -238.7,198.3 -236.3,199.8 -233.1,202.6 -230.3,204.1 -226.6,206.3 -225.7,209.2 -226.2,210.1 -223.8,208.2 -224.3,206.7 -223.8,205.4 -221.0,206.2 -221.9,204.9 -225.7,203.0 -229.4,201.7 -230.3,199.8 -232.6,197.9 -232.2,196.1 -229.9,195.7 -229.9,197.2 -227.5,197.9 -225.7,199.8 -221.9,201.7 -219.1,203.2 -219.3,205.8 -217.2,208.2 -215.4,211.0 -213.5,212.9 -212.6,211.0 -210.7,210.1 -212.6,208.2 -212.6,205.8 -210.7,206.0 -207.0,204.9 -206.6,206.3 -201.4,204.5 -203.2,202.6 -203.2,199.8 -201.4,197.0 -198.6,194.6 -195.8,194.6 -193.0,195.5 -193.9,197.7 -190.2,197.0 -187.4,196.4 -190.2,194.6 -184.6,193.3 -182.7,193.3 -186.4,196.4 -183.6,198.3 -180.8,200.4 -178.0,203.2 -182.7,204.5 -188.3,203.5 -193.9,202.6 -197.6,204.1 -201.4,204.5 -206.6,206.3 -206.0,208.2 -206.0,209.5 -204.5,212.0 -202.3,212.5 -198.6,212.9 -195.8,213.5 -192.0,212.9 -188.3,212.3 -188.3,214.8 -188.7,216.6 -189.8,219.4 -191.1,222.3 -194.8,222.8 -197.6,222.3 -201.4,223.2 -208.8,221.9 -212.6,220.4 -218.2,221.3 -218.2,223.6 -221.9,224.1 -226.6,222.3 -231.3,219.8 -235.0,218.5 -236.9,216.6 -235.9,213.8 -235.0,212.0 -237.2,211.4 -242.5,212.0 -249.9,212.3 -255.5,214.2 -259.3,215.3 -265.4,214.2 -266.7,214.8 -268.6,217.6 -272.4,220.4 -273.8,223.2 -273.8,226.0 -277.0,228.4 -279.8,229.7 -282.6,232.5 -285.4,236.3 -287.3,241.9 -286.0,245.6 -286.4,250.3 -288.2,253.7 -286.7,256.9 -286.4,258.7 -283.6,260.6 -280.8,263.4 -278.9,267.2 -276.1,269.0 -272.4,271.8 -269.6,273.1 -264.9,271.6 -261.1,271.8 -258.3,272.2 -253.7,270.3 -250.9,269.4 -247.1,269.4 -245.3,272.2 -242.5,273.0 -239.7,272.6 -237.8,274.1 -237.4,277.4 -238.2,280.3 -239.1,282.7 -237.4,285.9 -235.0,288.7 -233.1,291.5 -232.2,294.3 -230.7,297.7 -229.9,301.8 -232.2,306.4 -233.5,311.1 -233.5,314.9 -230.9,319.5 -228.6,323.3 -227.9,328.0 -226.6,332.6 -224.3,335.4 -222.9,339.2 -221.5,342.0 -221.2,345.2 -218.2,346.3 -214.4,345.0 -210.7,345.0 -207.5,344.8 -204.2,343.5 -199.5,339.6 -196.7,336.0 -194.5,332.6 -194.3,329.5 -190.2,327.0 -189.4,323.3 -190.5,318.6 -187.4,315.8 -182.7,312.1 -179.7,309.3 -179.9,304.6 -180.1,300.8 -182.1,296.2 -182.7,293.4 -181.8,289.6 -179.9,286.2 -177.5,283.6 -174.3,279.9 -170.5,277.1 -166.8,273.1 -164.0,268.1 -161.2,263.4 -159.9,259.1 -164.0,259.9 -168.7,261.0 -172.4,261.7 -174.7,259.7 -174.8,257.4 -179.0,253.5 -181.4,252.6 -183.6,247.5 -185.9,242.3 -186.8,240.0 -189.2,236.3 -191.1,231.6 -193.0,228.8 -194.8,225.2 -194.8,222.8M477.8,225.2 479.5,227.9 480.8,229.2 482.1,226.0 483.3,229.7 486.1,233.5 488.9,237.2 489.8,241.0 492.6,244.7 495.4,249.4 497.3,254.1 498.2,257.4 501.0,257.2 506.6,255.0 514.1,250.3 519.7,248.4 524.4,245.6 526.2,242.8 528.6,239.1 526.2,236.8 522.5,235.4 522.5,232.0 520.6,233.5 517.8,235.9 513.7,236.3 513.1,233.5 512.6,232.2 511.6,234.4 510.3,231.2 508.1,228.8 506.6,226.0 508.1,224.5 511.3,226.0 513.1,229.0 516.9,231.2 521.5,230.7 524.0,233.1 527.2,233.7 531.8,234.0 537.4,233.9 541.2,233.9 542.7,235.4 544.9,237.2 547.7,239.1 545.8,239.5 548.3,242.1 551.4,241.5 552.4,239.7 552.9,242.8 552.9,245.6 553.9,249.4 555.2,253.1 556.7,256.9 558.5,260.0 559.8,263.4 561.7,266.0 563.0,264.5 564.5,263.8 566.0,261.9 566.8,256.9 566.6,252.8 570.1,250.3 573.9,247.0 578.5,243.8 579.5,241.0 583.2,240.4 586.0,239.5 588.4,239.5 589.2,241.9 591.6,244.7 593.1,247.5 593.1,251.3 595.3,251.6 598.1,249.8 599.4,252.2 600.4,255.9 601.3,259.7 600.9,262.9 600.6,266.2 602.8,268.5 604.5,270.9 606.2,276.0 610.3,278.8 611.6,278.4 610.3,274.6 609.9,271.8 607.5,269.4 605.2,268.1 603.7,265.3 602.2,263.8 602.8,260.6 603.7,256.3 605.6,257.4 608.0,258.4 609.3,261.0 612.7,261.5 613.1,264.4 612.7,265.1 615.9,263.2 616.8,261.5 620.6,259.7 621.1,256.9 620.6,253.1 617.8,249.8 614.9,246.6 614.6,244.1 616.8,241.9 619.6,240.8 622.0,241.2 622.8,243.2 623.4,241.3 626.2,240.4 629.9,239.5 633.6,238.3 637.4,235.4 640.2,233.5 641.1,230.7 643.9,227.9 644.8,225.1 643.0,223.8 644.6,222.3 642.6,220.0 641.7,217.0 639.6,215.7 642.0,213.5 645.8,212.0 643.0,210.7 639.2,211.4 637.4,209.5 636.8,208.2 640.2,206.7 643.0,204.9 644.8,205.4 643.5,208.2 646.7,206.9 649.5,206.3 650.8,208.8 650.4,210.5 653.6,211.6 652.9,214.8 653.2,216.8 656.0,216.1 658.5,214.8 658.7,212.0 656.6,208.8 655.1,206.7 659.2,204.5 661.1,202.0 664.5,200.4 669.1,198.9 672.9,196.1 676.6,192.3 679.4,188.6 679.4,184.8 681.1,181.7 678.1,179.8 673.8,180.5 672.9,179.2 669.7,178.7 672.9,176.4 678.5,173.0 684.1,170.2 691.5,170.2 697.1,169.7 701.8,171.0 706.5,170.2 709.3,166.1 715.8,165.6 722.4,164.3 721.4,166.1 715.8,168.0 710.2,172.7 708.3,176.4 708.0,181.1 709.7,185.8 713.0,182.0 715.8,179.2 719.6,178.3 719.6,175.5 722.0,172.7 719.6,171.7 723.3,169.3 727.0,168.9 735.1,168.9 739.2,166.7 747.6,164.3 752.2,163.7 751.3,160.9 748.5,160.1 753.2,159.6 756.0,158.6 760.7,159.6 766.3,160.9 768.1,159.6 770.9,158.3 772.4,157.5M-194.6,225.2 -193.0,227.9 -191.7,229.2 -190.3,226.0 -189.2,229.7 -186.4,233.5 -183.6,237.2 -182.7,241.0 -179.9,244.7 -177.1,249.4 -175.2,254.1 -174.3,257.4 -171.5,257.2 -165.9,255.0 -158.4,250.3 -152.8,248.4 -148.1,245.6 -146.3,242.8 -143.8,239.1 -146.3,236.8 -150.0,235.4 -150.0,232.0 -151.9,233.5 -154.7,235.9 -158.8,236.3 -159.3,233.5 -159.9,232.2 -160.8,234.4 -162.1,231.2 -164.4,228.8 -165.9,226.0 -164.4,224.5 -161.2,226.0 -159.3,229.0 -155.6,231.2 -150.9,230.7 -148.5,233.1 -145.3,233.7 -140.7,234.0 -135.1,233.9 -131.3,233.9 -129.8,235.4 -127.6,237.2 -124.8,239.1 -126.6,239.5 -124.2,242.1 -121.0,241.5 -120.1,239.7 -119.5,242.8 -119.5,245.6 -118.6,249.4 -117.3,253.1 -115.8,256.9 -113.9,260.0 -112.6,263.4 -110.8,266.0 -109.5,264.5 -108.0,263.8 -106.5,261.9 -105.7,256.9 -105.9,252.8 -102.4,250.3 -98.6,247.0 -94.0,243.8 -93.0,241.0 -89.3,240.4 -86.5,239.5 -84.1,239.5 -83.3,241.9 -80.9,244.7 -79.4,247.5 -79.4,251.3 -77.1,251.6 -74.3,249.8 -73.0,252.2 -72.1,255.9 -71.2,259.7 -71.5,262.9 -71.9,266.2 -69.7,268.5 -68.0,270.9 -66.3,276.0 -62.2,278.8 -60.9,278.4 -62.2,274.6 -62.6,271.8 -65.0,269.4 -67.2,268.1 -68.7,265.3 -70.2,263.8 -69.7,260.6 -68.7,256.3 -66.9,257.4 -64.4,258.4 -63.1,261.0 -59.8,261.5 -59.4,264.4 -59.8,265.1 -56.6,263.2 -55.7,261.5 -51.9,259.7 -51.4,256.9 -51.9,253.1 -54.7,249.8 -57.5,246.6 -57.9,244.1 -55.7,241.9 -52.9,240.8 -50.4,241.2 -49.7,243.2 -49.1,241.3 -46.3,240.4 -42.6,239.5 -38.9,238.3 -35.1,235.4 -32.3,233.5 -31.4,230.7 -28.6,227.9 -27.6,225.1 -29.5,223.8 -27.8,222.3 -29.9,220.0 -30.8,217.0 -32.9,215.7 -30.4,213.5 -26.7,212.0 -29.5,210.7 -33.2,211.4 -35.1,209.5 -35.7,208.2 -32.3,206.7 -29.5,204.9 -27.6,205.4 -29.0,208.2 -25.8,206.9 -23.0,206.3 -21.7,208.8 -22.0,210.5 -18.9,211.6 -19.6,214.8 -19.2,216.8 -16.4,216.1 -14.0,214.8 -13.8,212.0 -15.9,208.8 -17.4,206.7 -13.3,204.5 -11.4,202.0 -8.0,200.4 -3.4,198.9 0.4,196.1 4.1,192.3 6.9,188.6 6.9,184.8 8.6,181.7 5.6,179.8 1.3,180.5 0.4,179.2 -2.8,178.7 0.4,176.4 6.0,173.0 11.6,170.2 19.1,170.2 24.7,169.7 29.3,171.0 34.0,170.2 36.8,166.1 43.3,165.6 49.9,164.3 48.9,166.1 43.3,168.0 37.7,172.7 35.9,176.4 35.5,181.1 37.2,185.8 40.5,182.0 43.3,179.2 47.1,178.3 47.1,175.5 49.5,172.7 47.1,171.7 50.8,169.3 54.5,168.9 62.6,168.9 66.7,166.7 75.1,164.3 79.8,163.7 78.8,160.9 76.0,160.1 80.7,159.6 83.5,158.6 88.2,159.6 93.8,160.9 95.6,159.6 98.4,158.3 99.9,157.5M504.7,196.1 509.4,194.2 512.2,193.3 515.9,194.2 515.9,196.6 512.6,197.0 512.2,198.3 510.9,198.9 512.2,200.7 515.6,202.6 515.9,204.5 515.4,206.3 517.4,208.2 517.4,211.4 514.1,212.5 511.3,212.0 508.5,211.0 508.5,209.2 509.4,205.8 507.5,203.0 505.7,200.7 504.7,197.9 504.7,196.1M526.2,197.0 528.1,194.6 530.9,193.8 531.8,196.1 530.0,198.3 527.2,199.4 526.2,197.0M554.2,196.1 556.1,194.0 560.8,193.8 564.5,193.6 564.5,194.6 560.8,194.7 557.0,195.5 555.2,197.0 554.2,196.1M610.8,184.6 614.0,182.4 618.7,179.6 621.5,176.8 622.4,177.3 620.6,180.5 616.8,183.0 613.1,184.8 610.8,184.6M473.0,168.9 474.8,166.1 478.6,167.1 477.7,168.9 473.0,168.9M476.3,282.1 477.7,280.6 480.5,280.8 480.8,283.4 479.5,285.9 476.7,285.9 476.3,282.1M471.7,287.6 472.6,290.5 474.5,295.2 474.8,297.5 473.5,296.2 471.7,291.5 471.7,287.6M480.5,299.0 481.9,302.7 482.7,307.4 481.6,307.8 480.8,303.6 480.5,299.0M407.6,171.5 411.3,171.5 413.6,173.6 412.3,176.4 414.1,178.3 416.6,180.2 417.5,182.0 420.1,182.6 418.8,184.8 419.6,185.4 416.9,186.1 413.2,186.5 410.4,187.1 406.7,187.6 408.5,185.4 411.3,184.8 407.6,184.3 409.1,182.4 411.3,181.5 411.3,180.2 410.4,178.7 407.6,178.7 407.6,176.4 405.7,174.5 406.7,172.7 407.6,171.5M405.4,177.9 406.7,179.2 405.7,181.5 405.2,183.5 402.0,184.5 398.3,184.6 398.6,181.5 398.3,179.8 401.4,179.2 401.6,177.9 405.4,177.9M437.5,132.4 443.1,131.5 450.6,131.1 456.2,133.4 451.5,136.2 447.8,137.5 443.1,136.2 439.4,134.3 437.5,132.4M450.6,130.9 458.0,130.4 467.4,131.1 461.8,132.6 453.4,132.3 450.6,130.9M513.1,147.4 516.9,145.5 520.6,143.1 521.5,140.9 529.0,139.0 538.4,137.5 544.9,137.5 540.2,139.0 530.9,140.5 524.4,143.1 521.5,145.5 524.4,148.7 519.7,148.9 515.9,148.5 513.1,147.4M594.4,133.4 601.9,135.3 611.2,134.3 613.1,132.4 603.7,130.6 596.3,129.3 590.7,131.5 594.4,133.4M672.9,139.9 678.5,141.2 685.9,140.9 697.1,140.5 693.4,139.0 682.2,138.6 672.9,139.9M678.5,143.7 684.1,144.0 685.0,142.7 678.5,142.7 678.5,143.7M750.4,148.0 753.2,147.4 756.9,147.8 756.9,148.5 752.2,148.5 750.4,148.0M77.9,148.0 80.7,147.4 84.4,147.8 84.4,148.5 79.8,148.5 77.9,148.0M504.7,130.6 514.1,131.1 525.3,130.9 532.8,129.6 523.4,128.7 510.3,129.6 504.7,130.6M682.2,179.6 684.1,182.0 684.6,185.8 685.0,188.9 684.1,193.3 685.0,194.7 682.2,195.1 682.2,191.4 682.2,187.6 681.8,183.9 682.2,179.6M678.5,202.6 679.0,200.2 681.4,196.2 684.1,198.3 688.4,199.8 685.9,200.7 684.6,202.6 681.3,201.7 679.4,203.5 678.5,202.6M680.9,203.7 682.2,207.3 680.3,210.1 680.0,213.8 678.5,215.7 676.2,216.3 672.9,216.5 670.6,218.5 669.1,216.5 665.4,217.0 661.6,217.6 662.0,216.3 665.4,214.8 670.1,214.6 672.5,211.6 673.8,212.3 676.6,210.1 678.5,206.7 679.0,204.5 680.9,203.7M661.5,217.8 663.1,218.9 662.6,221.3 661.3,223.0 660.2,222.4 660.2,220.4 659.2,219.1 661.5,217.8M664.5,217.6 668.2,217.2 667.8,218.3 665.8,219.1 664.5,219.4 664.5,217.6M643.9,234.0 644.5,235.4 643.0,239.7 641.5,238.2 642.0,235.4 643.9,234.0M620.0,245.1 622.4,243.6 624.3,244.3 623.0,246.6 620.6,247.0 620.0,245.1M566.0,263.0 567.9,264.0 569.7,267.2 568.8,269.4 566.9,270.0 566.0,267.2 566.0,263.0M509.0,303.6 510.9,310.2 509.6,313.9 507.5,320.5 505.3,327.0 501.9,328.9 499.1,327.6 497.8,323.3 499.7,318.6 499.1,313.9 501.0,311.1 504.7,309.3 507.0,306.4 509.0,303.6M440.3,210.1 445.9,209.7 445.3,212.3 440.3,210.7 440.3,210.1M432.4,204.9 434.7,204.1 435.1,207.3 433.8,208.2 432.6,207.8 432.4,204.9M433.2,201.7 434.5,200.7 434.7,203.0 433.8,203.7 433.2,201.7M460.8,214.8 466.1,215.1 465.5,215.7 461.8,215.7 460.8,214.8M477.3,215.7 481.4,214.6 480.5,215.7 478.6,216.5 477.3,215.7M595.0,270.7 599.1,271.5 604.3,276.5 610.3,281.2 612.1,284.9 614.9,287.2 614.6,292.0 612.1,291.9 608.0,288.7 605.2,284.9 601.9,280.3 599.1,276.5 595.0,270.7M613.5,293.9 616.4,292.4 619.6,293.7 624.3,293.4 628.0,294.3 630.8,295.8 630.5,297.5 624.3,296.7 619.6,295.8 615.9,295.0 613.5,293.9M620.6,278.4 623.4,278.0 625.2,276.0 628.0,275.2 630.8,272.2 633.6,269.0 635.5,268.1 636.8,269.6 639.2,271.5 637.4,273.1 637.0,276.5 638.9,279.3 636.4,281.2 634.6,284.0 634.2,287.7 630.8,288.9 628.0,287.4 625.2,287.4 622.8,285.9 620.9,282.1 620.6,278.4M640.7,279.7 643.0,278.8 646.7,279.5 650.4,278.2 649.1,280.4 644.8,280.4 642.0,281.2 643.5,283.1 647.3,282.9 644.8,284.6 645.8,287.4 647.1,289.6 645.4,290.2 643.9,288.7 642.6,286.4 641.7,288.7 641.7,291.5 640.2,291.5 640.2,287.7 638.9,286.4 640.2,283.1 640.7,279.7M661.6,282.7 665.4,282.1 667.6,283.1 667.6,285.9 670.1,287.4 673.8,284.4 677.5,285.3 681.3,286.2 686.9,288.3 689.7,290.5 692.5,292.4 692.1,294.3 694.3,297.1 698.1,300.8 693.4,300.3 689.7,296.7 686.9,295.6 684.1,298.0 680.3,298.4 676.6,296.2 674.7,296.7 676.0,294.3 674.7,291.5 671.0,289.6 666.3,288.3 665.0,287.4 666.9,285.5 663.5,285.5 661.6,283.6 661.6,282.7M642.0,246.6 645.2,246.8 645.2,250.3 643.9,252.2 644.3,254.6 647.6,255.4 648.6,257.2 645.8,255.6 642.6,255.4 641.7,253.1 641.1,250.9 642.0,246.6M644.8,268.1 647.6,265.3 651.4,263.0 652.9,265.3 652.9,269.0 651.4,270.3 648.6,269.0 647.6,267.2 644.8,268.1M644.8,259.1 647.1,259.7 647.3,261.9 645.8,263.4 644.8,261.5 644.8,259.1M649.1,257.8 651.4,258.2 651.4,260.6 650.4,262.1 649.5,260.6 649.1,257.8M635.9,265.3 638.3,263.0 640.2,260.6 639.8,262.1 637.4,264.7 635.9,265.3M655.1,277.4 657.0,278.4 656.0,280.3 657.0,282.1 655.7,281.2 655.1,279.3 655.1,277.4M647.6,300.5 650.4,298.0 654.2,296.9 653.2,298.0 649.5,300.3 647.6,300.5M633.6,296.9 637.4,296.7 641.1,296.7 646.3,296.7 645.8,297.7 641.1,297.7 638.3,297.7 635.5,298.0 633.6,297.7 633.6,296.9M656.0,286.8 660.7,286.8 661.3,288.1 657.9,287.6 656.0,287.6 656.0,286.8M694.0,291.9 697.1,291.5 700.9,289.0 701.4,290.5 699.0,292.4 696.2,293.0 694.0,291.9M683.1,301.2 685.0,304.6 685.0,307.9 688.4,309.1 689.7,313.9 690.2,316.7 693.4,318.6 696.2,322.4 698.6,325.2 702.7,328.9 703.7,333.6 702.7,339.2 699.9,343.9 697.7,348.0 697.1,351.4 693.4,352.1 690.2,354.2 687.8,352.8 685.0,353.8 680.3,352.3 677.9,349.5 675.7,347.8 674.7,345.4 674.2,342.9 673.8,345.7 672.5,347.2 670.1,346.1 667.6,342.9 662.6,340.1 657.9,340.3 652.3,341.6 648.6,342.9 647.6,344.6 641.1,344.6 637.4,346.7 632.7,345.7 631.8,343.9 633.1,341.1 631.8,337.3 630.3,332.6 629.0,329.8 629.0,326.1 629.5,323.3 630.8,322.0 635.1,319.7 639.2,318.6 643.9,317.7 645.4,314.9 647.6,313.6 649.5,311.7 651.4,308.3 654.2,307.2 656.4,308.9 659.2,309.1 658.8,306.4 660.7,304.6 664.5,303.8 664.5,302.5 669.1,304.0 672.5,304.0 671.0,306.1 670.1,309.3 672.9,310.8 677.2,313.9 680.0,313.9 681.4,309.3 681.4,305.1 682.2,301.8 683.1,301.2M687.2,357.3 690.6,358.1 694.0,357.7 694.0,360.1 692.5,362.2 689.7,362.8 688.4,360.7 687.2,357.3M739.5,345.6 742.9,348.9 745.3,349.9 745.7,351.5 749.4,351.5 750.0,353.2 747.6,355.1 747.2,357.0 744.4,359.0 743.5,358.5 743.8,356.0 741.6,354.7 743.1,353.2 743.3,351.0 740.5,347.2 739.5,345.6M739.5,357.0 742.3,358.5 740.1,361.6 739.2,363.1 736.4,364.4 735.8,367.3 732.6,368.4 728.0,367.3 728.9,365.4 731.7,363.5 735.4,361.3 737.9,358.8 739.5,357.0M723.3,319.0 726.1,320.5 728.9,322.9 728.0,322.9 725.2,321.4 723.3,319.0M545.5,372.9 548.6,373.1 548.1,374.2 545.8,374.0 545.5,372.9M516.5,257.6 518.7,257.6 518.7,258.2 516.5,258.0 516.5,257.6M432.8,274.3 433.6,274.6 433.0,275.2 432.8,274.3M80.0,428.0 107.5,428.0 120.0,425.0 142.5,423.0 162.5,420.5 182.5,418.0 205.0,419.2 215.0,420.5 225.0,418.7 227.5,416.2 237.5,416.2 242.5,417.5 252.5,416.5 260.0,417.0 270.0,417.0 275.0,412.5 279.0,415.0 282.5,411.0 290.0,407.5 297.5,403.0 307.5,400.0 313.7,399.2 310.0,401.0 304.5,403.7 303.7,410.0 305.0,416.0 302.5,421.0 310.0,423.0 322.5,426.0 335.0,427.0 347.5,426.7 360.0,423.7 372.5,419.5 385.0,416.0 397.5,413.0 410.0,411.7 416.0,410.0 420.0,411.7 435.0,411.7 443.7,410.7 445.0,410.0 452.5,412.0 467.5,412.0 477.5,409.5 487.5,412.0 495.0,408.2 505.0,407.5 512.5,404.2 520.0,404.2 526.0,407.0 540.0,408.0 550.0,409.2 556.0,411.2 562.5,409.5 570.0,406.2 571.0,404.5 580.0,404.2 585.0,406.2 595.0,404.5 600.0,403.2 610.0,403.4 620.0,405.6 632.5,404.5 642.5,406.2 660.0,405.5 668.7,403.0 675.0,405.0 687.5,407.0 695.0,409.2 710.0,410.7 720.0,413.2 735.0,415.5 731.0,418.7 722.5,421.2 720.0,425.0 725.0,426.2 740.0,426.2 752.0,427.5M312.0,395.0 316.0,395.0M329.0,394.5 333.0,394.5M723.0,407.0 724.0,408.0M236.0,128.4 238.6,129.3 241.1,127.9 243.8,128.9 246.4,127.6 249.0,128.7 251.6,127.4 254.2,128.4 256.8,127.1 259.4,128.0 262.0,126.7M262.0,126.7 264.6,127.2 267.0,126.0 269.7,126.7 272.2,125.8 274.8,126.4 277.2,125.1 279.9,125.9 282.3,124.8 285.0,125.6 287.4,124.5 290.0,125.2M232.0,130.9 234.6,132.0 237.2,130.8 239.8,132.0 242.3,130.4 245.0,131.8 247.5,130.4 250.1,131.9 252.7,130.3 255.3,131.7 257.9,130.4 260.5,131.4 263.0,130.2 265.7,131.6 268.2,130.0 270.8,131.3 273.4,129.8 276.0,131.2M226.0,133.3 228.5,135.0 231.0,133.0 233.6,134.6 236.1,133.0 238.6,134.7 241.1,132.8 243.7,134.8 246.2,133.1 248.7,134.9 251.3,133.1 253.8,134.5 256.3,132.7 258.8,134.3 261.4,132.8 263.9,134.2 266.4,132.7 269.0,134.5 271.5,132.7 274.0,134.5M192.0,133.9 194.5,135.4 197.1,134.1 199.6,135.6 202.2,134.4 204.7,136.0 207.3,134.4 209.8,136.1 212.4,134.8 214.9,136.2 217.5,135.1 220.0,136.7M190.1,136.5 192.5,138.5 195.1,137.1 197.6,138.6 200.2,137.2 202.7,138.7 205.3,137.6 207.8,139.0 210.4,138.0 212.9,139.3 215.5,138.0 218.0,139.6M222.0,136.3 224.5,137.8 227.0,135.8 229.6,137.6 232.1,136.0 234.6,137.8 237.1,135.7 239.7,137.9 242.2,135.7 244.7,137.5 247.3,135.9 249.8,137.5 252.3,135.6 254.9,137.8 257.4,135.9 259.9,137.3 262.4,135.8 265.0,137.3 267.5,135.6 270.0,137.5M196.0,139.9 198.5,140.9 201.0,139.7 203.5,141.0 206.0,139.5 208.5,141.2 211.0,139.3 213.5,140.8 216.0,139.2 218.5,140.8 221.0,139.3 223.5,140.8 226.0,138.9 228.5,140.6 231.0,138.7 233.5,140.3 236.0,138.8M240.0,139.4 242.7,140.8 245.3,139.4 248.0,140.4 250.7,139.2 253.3,140.4 256.0,139.1 258.7,140.2 261.3,139.2 264.0,140.2 266.7,139.0 269.3,140.2 272.0,139.0M228.0,142.1 230.8,143.7 233.5,142.3 236.3,143.4 239.0,142.1 241.8,143.4 244.5,142.1 247.3,143.5 250.0,141.5M250.0,144.1 252.5,146.0 255.0,144.5 257.5,146.0 260.0,144.6 262.5,146.3 265.0,144.5 267.5,146.4 270.0,145.2 272.5,147.1 275.0,145.1M226.1,146.3 228.4,148.3 231.2,147.2 233.6,149.2 236.5,147.5 238.7,150.2 241.6,148.6 243.9,150.7M252.1,148.1 254.4,150.0 257.1,148.4 259.4,150.7 262.1,148.8 264.4,151.1 267.1,149.7 269.4,151.9 272.1,149.7 274.4,152.4 277.1,150.3 279.4,152.9 282.1,150.9M258.1,154.3 260.4,156.2 263.2,154.7 265.6,156.4 268.2,155.5 270.6,157.1 273.4,155.9 275.7,157.9 278.5,156.0 280.8,158.3 283.6,156.6 285.9,159.2M262.2,159.0 264.5,161.1 267.2,160.3 269.6,161.9 272.4,161.1 274.8,162.7 277.6,161.8 279.8,163.9M192.1,145.1 194.5,147.1 197.2,145.8 199.6,147.9 202.3,146.8 204.7,148.5 207.5,147.1 209.8,149.2 212.6,147.8 214.9,149.7M196.1,151.5 198.5,153.1 201.3,151.9 203.7,153.6 206.5,152.1 208.9,153.9 211.7,152.9 214.1,154.6 216.9,153.2 219.3,154.8 222.0,154.0M269.9,132.5 272.8,133.3 275.3,131.4 278.2,132.2 280.7,130.6 283.7,131.6 286.2,129.8 289.1,130.5M273.9,139.4 276.8,139.9 279.3,138.6 282.1,139.3 284.5,137.4 287.4,138.1 289.9,136.2M236.6,130.9 235.6,134.1 237.4,136.9 236.5,140.1M248.6,129.0 247.7,132.0 249.1,135.0 248.0,138.1 249.6,141.0M258.6,128.0 257.7,130.8 259.3,133.5 258.0,136.4 259.5,139.2 258.3,142.1M266.8,127.9 265.7,131.0 267.3,133.9 266.2,137.0 267.6,139.9M243.7,142.9 242.9,145.7 244.4,148.1 243.7,150.9 245.0,153.3 244.2,156.1M253.5,142.9 253.1,146.1 255.0,148.9 254.4,152.1M290.0,124.1 292.5,124.9 295.0,123.9 297.5,124.8 300.0,123.9 302.5,124.7 305.0,123.8 307.5,124.4 310.0,123.5 312.5,124.4 315.0,123.4 317.5,124.3 320.0,123.2 322.5,124.1 325.0,123.1 327.5,124.0 330.0,123.0M330.0,123.0 332.6,124.1 335.2,123.4 337.7,124.5 340.4,123.7 342.9,124.9 345.5,124.1 348.0,125.4 350.7,124.6 353.2,125.7 355.9,124.8 358.4,126.1 361.0,125.4 363.6,126.3 366.2,125.7 368.7,126.6 371.4,126.1 373.9,127.0 376.5,126.4 379.0,127.6 381.7,126.7 384.2,127.8 386.9,127.1 389.4,128.3 392.0,127.7M388.7,131.0 385.0,130.6 384.1,133.8 380.7,133.8 379.7,137.1 376.4,137.2M378.9,137.9 375.4,138.0 374.9,141.1 371.9,141.7 371.5,144.9 368.4,145.4M371.5,144.5 368.7,145.5 368.3,148.7 365.3,149.6 364.7,152.6M385.5,131.1 382.5,131.9 381.0,134.6 377.9,135.3 376.7,138.3 373.7,139.1M374.7,140.7 371.3,141.5 370.7,144.9 367.6,146.0 366.5,148.9M316.4,149.8 316.8,152.9 319.5,154.7 320.1,157.8 322.5,159.7M312.7,145.5 312.8,148.7 315.5,150.2 316.1,153.0 318.7,154.5M158.2,170.4 160.6,172.8 163.8,172.9 166.3,174.9M166.7,173.5 167.3,176.9 170.1,178.7 170.7,182.1M168.7,175.5 168.9,178.9 171.8,180.4 172.2,183.5M171.8,181.0 173.2,183.6 176.2,183.5 177.6,186.1M174.4,183.3 175.9,186.3 179.1,186.5 180.9,189.0 184.0,189.4 185.7,192.0M176.3,182.6 178.4,185.1 181.6,185.9 183.7,188.5M99.9,184.2 103.2,184.1 106.2,182.7 109.4,182.8 112.4,181.4 115.7,181.4 118.7,180.0 121.9,179.9 124.9,178.7M84.0,186.3 88.0,186.3M91.0,186.0 96.0,185.6M117.5,239.3 119.0,239.8M120.5,240.3 122.0,241.0M123.0,241.8 126.0,243.2 125.2,244.4 124.0,243.0 123.0,241.8M440.0,131.5 442.7,132.8 445.4,131.1 448.1,132.4 450.8,131.1 453.5,132.7 456.2,131.1 458.9,132.6 461.6,130.9 464.3,132.3 467.0,130.6M442.0,133.3 444.7,134.7 447.3,133.0 450.0,134.8 452.7,133.1 455.4,134.6 458.0,132.8 460.7,134.4 463.3,132.9 466.0,134.2M446.0,135.1 448.7,135.9 451.3,135.1 454.0,136.1 456.7,135.1 459.3,135.9 462.0,135.1M470.0,133.0 474.0,133.0M477.0,131.6 480.0,131.6M500.0,128.3 502.5,129.7 505.1,128.2 507.6,129.4 510.1,128.3 512.7,129.3 515.2,128.1 517.7,129.1 520.3,128.0 522.8,129.1 525.3,127.7 527.9,129.3 530.4,127.8 532.9,128.9 535.5,127.6 538.0,128.8M502.0,130.3 504.6,131.2 507.2,130.2 509.9,131.3 512.5,130.0 515.1,131.0 517.7,129.9 520.3,130.9 522.9,129.9 525.5,130.8 528.1,129.8 530.8,130.7 533.4,129.8 536.0,130.7M586.1,129.4 588.5,131.2 591.3,130.0 593.7,132.1 596.5,130.8 598.9,132.8 601.7,131.5 604.1,133.5 606.9,132.5 609.2,134.6 612.1,133.4M590.2,131.7 592.4,133.7 595.1,133.0 597.3,134.8 600.2,133.7 602.4,135.7 605.2,134.7 607.3,136.8 610.1,136.0M668.0,138.9 670.5,140.2 673.0,139.0 675.5,140.6 678.0,139.3 680.5,140.8 683.0,139.5 685.5,141.0 688.0,139.8 690.5,141.1 693.0,140.3 695.5,141.3 698.0,140.5M672.0,141.1 674.6,142.2 677.2,141.1 679.7,142.3 682.3,141.2 684.8,142.4 687.4,141.4 690.0,142.4M514.8,146.8 517.7,147.4 519.8,145.3 522.7,145.6 524.8,143.6 527.6,143.8 529.8,142.0 532.7,142.3 534.9,140.6M533.0,139.6 535.6,140.4 538.0,139.1 540.6,139.9 542.9,138.3 545.6,139.3 548.0,138.0 550.6,138.8 552.9,137.4 555.6,138.4 557.9,136.9M691.0,200.0 693.0,198.5M695.0,197.0 697.0,195.5M699.0,194.0 701.5,191.5M703.0,190.0 705.0,188.0M655.0,232.0 658.0,227.5M648.0,235.0 650.0,233.5M643.8,252.4 644.2,255.6 647.0,257.1 647.7,260.2 650.8,261.4M645.6,255.6 646.0,259.0 649.0,260.7 649.7,263.9 652.6,265.6M641.7,257.6 641.8,260.9 644.7,262.6 644.9,265.8 647.7,267.6M647.7,261.7 647.7,265.0 650.2,267.1 650.2,270.4M650.5,269.7 650.9,272.9 654.1,274.1 654.6,277.3M644.6,271.6 644.8,274.5 647.8,275.4 647.9,278.4 650.5,279.6M635.7,267.7 638.6,266.6 639.7,263.7 642.4,262.4M640.1,291.5 642.4,293.0 645.1,292.0 647.4,293.6 650.1,292.8 652.4,294.5 655.1,293.5 657.4,295.3 660.1,294.5M624.0,295.2 626.6,296.7 629.2,295.8 631.8,296.7 634.4,295.8 637.0,297.1 639.6,296.1 642.2,297.2 644.8,296.3 647.4,297.4 650.0,296.3M655.0,288.6 657.8,289.9 660.7,288.6 663.5,289.9 666.4,288.9 669.1,290.5 672.0,289.2M644.6,279.7 644.9,282.9 647.6,284.6 647.6,288.0 650.7,289.6M652.6,280.7 652.7,283.7 655.2,285.4 655.5,288.3M590.3,269.8 591.2,272.6 593.7,274.1 594.5,276.9 597.0,278.4 598.0,281.1 600.4,282.7M706.2,289.7 708.0,292.0 711.0,292.6 712.5,295.3 715.5,295.8 717.1,298.3 720.1,298.9 721.6,301.6M710.3,290.6 711.7,293.0 714.2,294.0 715.7,296.2 718.3,297.1 719.7,299.4M729.0,309.0 730.0,313.0M731.0,314.0 732.0,317.0M747.0,312.5 750.0,312.0 751.0,314.0 748.0,315.0 747.0,312.5M245.5,281.0 248.5,281.5 249.0,283.5 246.0,283.0 245.5,281.0M497.0,302.0 499.5,303.5 501.0,305.0M545.5,371.5 549.0,371.5 549.0,375.0 545.5,375.0 545.5,371.5 549.0,375.0 549.0,371.5 545.5,375.0 547.2,371.5 547.2,375.0M385.5,227.0 387.0,227.6 388.0,229.0M389.5,227.2 391.5,226.5M362.0,208.0 364.0,208.6M345.0,382.0 350.0,383.0M399.0,148.4 402.0,148.4M442.5,254.5 444.5,254.0 445.0,256.0 443.0,256.8 442.5,254.5M483.7,271.9 484.6,274.0 485.2,276.4M473.0,278.5 474.5,277.2 475.8,277.0M467.0,313.5 469.0,312.3 470.6,312.0M285.5,309.5 287.0,310.5 288.0,311.8M256.0,259.5 258.0,260.5M481.0,164.0 483.0,166.5 482.0,167.5 481.0,164.0M441.0,169.0 442.5,170.0M225.0,172.5 226.5,176.5M207.0,170.5 213.0,169.5M280.0,157.0 283.0,158.5M276.8,365.9 275.9,368.9 277.5,371.5 276.6,374.6 278.6,377.1 277.8,380.1M278.7,367.9 278.0,370.9 280.1,373.4 278.8,376.6 281.0,379.1 280.2,382.2M279.2,379.5 281.7,381.8 285.2,381.7 287.8,384.0M277.5,371.9 277.2,375.1 279.3,377.8 278.6,381.2 280.5,383.9M271.0,232.0 273.0,234.5M275.0,234.0 276.5,237.0M272.5,229.5 274.0,230.5M300.5,261.0 302.5,261.0 302.5,262.5 300.5,262.5 300.5,261.0M450.5,172.5 451.5,174.5M438.0,176.2 440.0,177.0M278.5,411.8 281.9,411.8 283.5,408.9 286.6,408.4 288.4,406.0 291.4,405.4 293.3,403.0 296.3,402.4M291.8,404.0 294.5,404.1 296.4,402.1 299.3,402.5 301.1,400.2 303.9,400.4 305.8,398.5M300.0,397.5 306.0,396.3M92.5,167.7 94.0,168.5M97.0,174.0 99.0,175.5M246.9,195.8 249.6,196.6 251.9,194.9 254.6,195.5 256.9,193.9 259.7,194.9 261.9,193.0M252.3,198.5 254.6,201.5 258.4,202.4M260.2,197.6 262.8,200.0 266.2,200.6M263.9,202.5 266.8,202.8 269.2,201.0 272.2,201.6M407.8,177.6 407.8,180.7 410.0,182.8 410.0,185.9 412.8,187.6M409.6,175.7 409.7,179.0 412.1,181.1 412.4,184.3M399.6,181.5 400.4,185.0 403.6,186.5M277.6,371.8 276.3,374.9 278.1,377.5 277.4,380.5 279.3,383.1 278.1,386.2M279.1,383.1 281.7,385.0 284.6,383.8 287.2,385.5 290.1,384.3M319.5,278.4 321.2,281.4 324.6,282.3M455.4,204.6 456.7,208.0 460.2,209.1 461.5,212.5M458.3,203.6 459.7,206.0 462.4,206.4 463.5,209.1 466.3,209.6M436.0,171.9 435.1,174.8 437.0,177.2 435.8,180.1M427.5,164.7 427.6,167.7 430.1,169.4 430.4,172.3M269.5,207.6 272.2,206.5 272.4,203.6 275.2,202.5 275.5,199.6"/><g fill="#000" shape-rendering="crispEdges"><rect x="451" y="141" width="2" height="2"/><rect x="688" y="254" width="1" height="1"/><rect x="700" y="262" width="1" height="1"/><rect x="712" y="268" width="1" height="1"/><rect x="728" y="262" width="1" height="1"/><rect x="734" y="264" width="1" height="1"/><rect x="740" y="276" width="1" height="1"/><rect x="744" y="282" width="1" height="1"/><rect x="732" y="260" width="1" height="1"/><rect x="744" y="296" width="1" height="1"/><rect x="690" y="258" width="1" height="1"/><rect x="702" y="288" width="1" height="1"/><rect x="714" y="282" width="1" height="1"/><rect x="112" y="269" width="1" height="1"/><rect x="122" y="277" width="1" height="1"/><rect x="93" y="286" width="1" height="1"/><rect x="96" y="287" width="1" height="1"/><rect x="95" y="297" width="1" height="1"/><rect x="115" y="299" width="1" height="1"/><rect x="121" y="297" width="1" height="1"/><rect x="154" y="296" width="1" height="1"/><rect x="156" y="298" width="1" height="1"/><rect x="142" y="307" width="1" height="1"/><rect x="136" y="313" width="1" height="1"/><rect x="144" y="313" width="1" height="1"/><rect x="153" y="309" width="1" height="1"/><rect x="153" y="316" width="1" height="1"/><rect x="153" y="320" width="1" height="1"/><rect x="160" y="323" width="1" height="1"/><rect x="162" y="321" width="1" height="1"/><rect x="173" y="327" width="1" height="1"/><rect x="183" y="327" width="1" height="1"/><rect x="211" y="330" width="1" height="1"/><rect x="88" y="319" width="1" height="1"/><rect x="98" y="315" width="1" height="1"/><rect x="86" y="363" width="1" height="1"/><rect x="94" y="306" width="1" height="1"/><rect x="552" y="260" width="1" height="2"/><rect x="552" y="262" width="1" height="2"/><rect x="552" y="265" width="1" height="2"/><rect x="552" y="268" width="1" height="2"/><rect x="552" y="271" width="1" height="2"/><rect x="552" y="274" width="1" height="2"/><rect x="552" y="277" width="1" height="2"/><rect x="552" y="281" width="1" height="2"/><rect x="590" y="255" width="1" height="2"/><rect x="590" y="260" width="1" height="2"/><rect x="592" y="265" width="1" height="2"/><rect x="519" y="288" width="2" height="2"/><rect x="523" y="318" width="2" height="2"/><rect x="520" y="320" width="2" height="2"/><rect x="486" y="368" width="2" height="2"/><rect x="367" y="210" width="2" height="1"/><rect x="384" y="219" width="2" height="1"/><rect x="370" y="250" width="1" height="1"/><rect x="372" y="253" width="1" height="1"/><rect x="295" y="220" width="1" height="1"/><rect x="403" y="164" width="2" height="2"/><rect x="413" y="167" width="2" height="2"/><rect x="428" y="280" width="1" height="1"/><rect x="301" y="247" width="1" height="2"/><rect x="302" y="250" width="1" height="2"/><rect x="302" y="253" width="1" height="2"/><rect x="302" y="256" width="1" height="2"/><rect x="301" y="259" width="1" height="2"/><rect x="421" y="206" width="2" height="1"/><rect x="748" y="148" width="1" height="1"/><rect x="688" y="243" width="1" height="1"/><rect x="689" y="246" width="1" height="1"/><rect x="674" y="263" width="1" height="1"/><rect x="668" y="266" width="1" height="2"/><rect x="727" y="177" width="2" height="1"/><rect x="738" y="181" width="2" height="1"/><rect x="747" y="184" width="2" height="1"/><polygon points="641.5,254.0 647.0,253.5 651.0,258.0 653.0,265.0 652.0,269.0 649.5,268.0 646.5,265.0 644.0,260.0 641.5,257.0"/><polygon points="278.1,358.7 280.6,358.7 280.2,365.0 279.2,372.5 282.0,377.5 286.5,379.6 289.0,382.8 286.0,384.6 281.2,383.7 276.9,378.7 275.2,371.2 276.4,363.7"/><polygon points="177.3,186.1 181.6,186.9 185.3,189.1 186.4,190.6 183.4,189.9 180.1,188.4"/><polygon points="168.5,180.0 170.9,180.2 171.3,182.0 172.0,183.9 169.8,182.0"/><polygon points="128.3,173.6 131.1,172.7 132.6,173.6 130.2,174.7"/></g></g>
<g stroke="#000" stroke-width="1" fill="none" shape-rendering="crispEdges">
<rect x="80.5" y="112.5" width="672" height="337"/>
<path d="M80.5 112.5v7.5M80.5 449.5v-7.5M98.5 112.5v4.5M98.5 449.5v-4.5M117.5 112.5v4.5M117.5 449.5v-4.5M136.5 112.5v4.5M136.5 449.5v-4.5M154.5 112.5v4.5M154.5 449.5v-4.5M173.5 112.5v4.5M173.5 449.5v-4.5M192.5 112.5v7.5M192.5 449.5v-7.5M210.5 112.5v4.5M210.5 449.5v-4.5M229.5 112.5v4.5M229.5 449.5v-4.5M248.5 112.5v4.5M248.5 449.5v-4.5M267.5 112.5v4.5M267.5 449.5v-4.5M285.5 112.5v4.5M285.5 449.5v-4.5M304.5 112.5v7.5M304.5 449.5v-7.5M323.5 112.5v4.5M323.5 449.5v-4.5M341.5 112.5v4.5M341.5 449.5v-4.5M360.5 112.5v4.5M360.5 449.5v-4.5M379.5 112.5v4.5M379.5 449.5v-4.5M397.5 112.5v4.5M397.5 449.5v-4.5M416.5 112.5v7.5M416.5 449.5v-7.5M435.5 112.5v4.5M435.5 449.5v-4.5M453.5 112.5v4.5M453.5 449.5v-4.5M472.5 112.5v4.5M472.5 449.5v-4.5M491.5 112.5v4.5M491.5 449.5v-4.5M509.5 112.5v4.5M509.5 449.5v-4.5M528.5 112.5v7.5M528.5 449.5v-7.5M547.5 112.5v4.5M547.5 449.5v-4.5M565.5 112.5v4.5M565.5 449.5v-4.5M584.5 112.5v4.5M584.5 449.5v-4.5M603.5 112.5v4.5M603.5 449.5v-4.5M621.5 112.5v4.5M621.5 449.5v-4.5M640.5 112.5v7.5M640.5 449.5v-7.5M659.5 112.5v4.5M659.5 449.5v-4.5M677.5 112.5v4.5M677.5 449.5v-4.5M696.5 112.5v4.5M696.5 449.5v-4.5M715.5 112.5v4.5M715.5 449.5v-4.5M734.5 112.5v4.5M734.5 449.5v-4.5M752.5 112.5v7.5M752.5 449.5v-7.5M80.5 112.5h4.5M752.5 112.5h-4.5M80.5 131.5h7.5M752.5 131.5h-7.5M80.5 149.5h4.5M752.5 149.5h-4.5M80.5 168.5h4.5M752.5 168.5h-4.5M80.5 187.5h4.5M752.5 187.5h-4.5M80.5 205.5h7.5M752.5 205.5h-7.5M80.5 224.5h4.5M752.5 224.5h-4.5M80.5 243.5h4.5M752.5 243.5h-4.5M80.5 261.5h4.5M752.5 261.5h-4.5M80.5 280.5h7.5M752.5 280.5h-7.5M80.5 299.5h4.5M752.5 299.5h-4.5M80.5 318.5h4.5M752.5 318.5h-4.5M80.5 336.5h4.5M752.5 336.5h-4.5M80.5 355.5h7.5M752.5 355.5h-7.5M80.5 374.5h4.5M752.5 374.5h-4.5M80.5 392.5h4.5M752.5 392.5h-4.5M80.5 411.5h4.5M752.5 411.5h-4.5M80.5 430.5h7.5M752.5 430.5h-7.5M80.5 449.5h4.5M752.5 449.5h-4.5"/>
</g>
<text x="417" y="80.5" font-size="32" text-anchor="middle" style="stroke-width:0.6px">Planetary Albedo (in %)</text>
<text x="328.5" y="101.8" font-size="17" textLength="175" lengthAdjust="spacingAndGlyphs">13.5kyr BP - 14.0kyr BP</text>
<text x="80" y="108.8" font-size="17" textLength="134" lengthAdjust="spacingAndGlyphs">Expt = teaeo-teado</text>
<text x="752" y="106.3" font-size="15.5" font-weight="bold" text-anchor="end" style="stroke-width:0.2px">JJA</text>
<text transform="translate(71.2,137.4) scale(0.92,1)" font-size="16.3" text-anchor="end">80N</text>
<text transform="translate(71.2,211.4) scale(0.92,1)" font-size="16.3" text-anchor="end">40N</text>
<text transform="translate(71.2,286.4) scale(0.92,1)" font-size="16.3" text-anchor="end">0</text>
<text transform="translate(71.2,361.4) scale(0.92,1)" font-size="16.3" text-anchor="end">40S</text>
<text transform="translate(71.2,436.4) scale(0.92,1)" font-size="16.3" text-anchor="end">80S</text>
<text transform="translate(79.8,469.8) scale(0.92,1)" font-size="16.3" text-anchor="middle">180</text>
<text transform="translate(191.8,469.8) scale(0.92,1)" font-size="16.3" text-anchor="middle">120W</text>
<text transform="translate(303.8,469.8) scale(0.92,1)" font-size="16.3" text-anchor="middle">60W</text>
<text transform="translate(415.8,469.8) scale(0.92,1)" font-size="16.3" text-anchor="middle">0</text>
<text transform="translate(527.8,469.8) scale(0.92,1)" font-size="16.3" text-anchor="middle">60E</text>
<text transform="translate(639.8,469.8) scale(0.92,1)" font-size="16.3" text-anchor="middle">120E</text>
<text transform="translate(751.8,469.8) scale(0.92,1)" font-size="16.3" text-anchor="middle">180</text>
<rect x="82.00" y="492" width="35.46" height="13" fill="#7d00d7"/>
<rect x="117.16" y="492" width="35.46" height="13" fill="#6900d7"/>
<rect x="152.32" y="492" width="35.46" height="13" fill="#5000d7"/>
<rect x="187.47" y="492" width="35.46" height="13" fill="#2d0ad7"/>
<rect x="222.63" y="492" width="35.46" height="13" fill="#0037d7"/>
<rect x="257.79" y="492" width="35.46" height="13" fill="#006ed7"/>
<rect x="292.95" y="492" width="35.46" height="13" fill="#0091d7"/>
<rect x="328.11" y="492" width="35.46" height="13" fill="#00aad7"/>
<rect x="363.26" y="492" width="35.46" height="13" fill="#00c3d7"/>
<rect x="398.42" y="492" width="35.46" height="13" fill="#e8e8e8"/>
<rect x="433.58" y="492" width="35.46" height="13" fill="#00dc8c"/>
<rect x="468.74" y="492" width="35.46" height="13" fill="#2dd70f"/>
<rect x="503.89" y="492" width="35.46" height="13" fill="#87d70a"/>
<rect x="539.05" y="492" width="35.46" height="13" fill="#c8d200"/>
<rect x="574.21" y="492" width="35.46" height="13" fill="#dcaf00"/>
<rect x="609.37" y="492" width="35.46" height="13" fill="#dc8700"/>
<rect x="644.53" y="492" width="35.46" height="13" fill="#dc5a00"/>
<rect x="679.68" y="492" width="35.46" height="13" fill="#dc2d00"/>
<rect x="714.84" y="492" width="35.46" height="13" fill="#dc0000"/>
<g stroke="#000" stroke-width="1" fill="none" shape-rendering="crispEdges">
<rect x="82.5" y="492.5" width="668" height="13"/>
<path d="M117.5 492.5v13M152.5 492.5v13M187.5 492.5v13M223.5 492.5v13M258.5 492.5v13M293.5 492.5v13M328.5 492.5v13M363.5 492.5v13M398.5 492.5v13M434.5 492.5v13M469.5 492.5v13M504.5 492.5v13M539.5 492.5v13M574.5 492.5v13M609.5 492.5v13M645.5 492.5v13M680.5 492.5v13M715.5 492.5v13"/>
</g>
<text x="117.2" y="521.5" font-size="18" text-anchor="middle" style="stroke-width:0.6px">-24</text>
<text x="152.3" y="521.5" font-size="18" text-anchor="middle" style="stroke-width:0.6px">-20</text>
<text x="187.5" y="521.5" font-size="18" text-anchor="middle" style="stroke-width:0.6px">-16</text>
<text x="222.6" y="521.5" font-size="18" text-anchor="middle" style="stroke-width:0.6px">-12</text>
<text x="257.8" y="521.5" font-size="18" text-anchor="middle" style="stroke-width:0.6px">-10</text>
<text x="292.9" y="521.5" font-size="18" text-anchor="middle" style="stroke-width:0.6px">-8</text>
<text x="328.1" y="521.5" font-size="18" text-anchor="middle" style="stroke-width:0.6px">-6</text>
<text x="363.3" y="521.5" font-size="18" text-anchor="middle" style="stroke-width:0.6px">-4</text>
<text x="398.4" y="521.5" font-size="18" text-anchor="middle" style="stroke-width:0.6px">-2</text>
<text x="433.6" y="521.5" font-size="18" text-anchor="middle" style="stroke-width:0.6px">2</text>
<text x="468.7" y="521.5" font-size="18" text-anchor="middle" style="stroke-width:0.6px">4</text>
<text x="503.9" y="521.5" font-size="18" text-anchor="middle" style="stroke-width:0.6px">6</text>
<text x="539.1" y="521.5" font-size="18" text-anchor="middle" style="stroke-width:0.6px">8</text>
<text x="574.2" y="521.5" font-size="18" text-anchor="middle" style="stroke-width:0.6px">10</text>
<text x="609.4" y="521.5" font-size="18" text-anchor="middle" style="stroke-width:0.6px">12</text>
<text x="644.5" y="521.5" font-size="18" text-anchor="middle" style="stroke-width:0.6px">16</text>
<text x="679.7" y="521.5" font-size="18" text-anchor="middle" style="stroke-width:0.6px">20</text>
<text x="714.8" y="521.5" font-size="18" text-anchor="middle" style="stroke-width:0.6px">24</text>
</svg></body></html>
